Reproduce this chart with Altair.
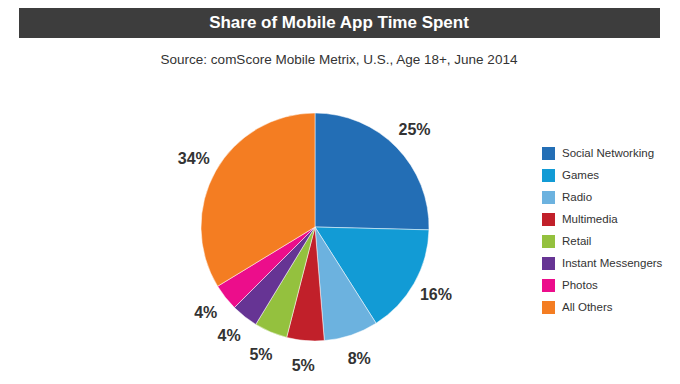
import altair as alt
import pandas as pd

categories = ["Social Networking", "Games", "Radio", "Multimedia", "Retail",
              "Instant Messengers", "Photos", "All Others"]
shares = [25.4, 15.6, 7.7, 5.3, 4.7, 3.8, 3.8, 33.7]
labels = ["25%", "16%", "8%", "5%", "5%", "4%", "4%", "34%"]
colors = ["#236EB5", "#129BD5", "#6CB2DF", "#C1202A", "#94C13E",
          "#663494", "#EC0D8B", "#F47D22"]
title_text = "Share of Mobile App Time Spent"
subtitle_text = "Source: comScore Mobile Metrix, U.S., Age 18+, June 2014"

FONT = "Liberation Sans"

df = pd.DataFrame({"category": categories, "share": shares, "label": labels,
                   "order": list(range(len(categories)))})

cx, cy = 307, 219
color_scale = alt.Scale(domain=categories, range=colors)

pie = alt.Chart(df).mark_arc(outerRadius=114, stroke="white", strokeWidth=0.5).encode(
    theta=alt.Theta("share:Q", stack=True),
    order=alt.Order("order:Q"),
    color=alt.Color("category:N", scale=color_scale, sort=categories,
                    legend=alt.Legend(title=None, orient="none", legendX=534, legendY=139,
                                      symbolType="square", symbolSize=169,
                                      symbolStrokeWidth=0, rowPadding=9,
                                      labelFont=FONT, labelFontSize=11.5,
                                      labelColor="#333333", labelOffset=7,
                                      labelLimit=200)),
    x=alt.value(cx), y=alt.value(cy),
)

text = alt.Chart(df).mark_text(radius=139, font=FONT, fontSize=16, fontWeight="bold",
                               color="#333333").encode(
    theta=alt.Theta("share:Q", stack=True),
    order=alt.Order("order:Q"),
    text="label:N",
    x=alt.value(cx), y=alt.value(cy),
)

bar = alt.Chart(pd.DataFrame({"a": [0]})).mark_rect(color="#3D3D3D").encode(
    x=alt.value(11), x2=alt.value(652), y=alt.value(0), y2=alt.value(30)
)

title = alt.Chart(pd.DataFrame({"t": [title_text]})).mark_text(
    font=FONT, fontSize=17, fontWeight="bold", color="white").encode(
    text="t:N", x=alt.value(331), y=alt.value(15)
)

subtitle = alt.Chart(pd.DataFrame({"t": [subtitle_text]})).mark_text(
    font=FONT, fontSize=13.5, color="#333333").encode(
    text="t:N", x=alt.value(331), y=alt.value(52)
)

chart = alt.layer(bar, title, subtitle, pie, text).properties(
    width=664, height=368, padding=0, autosize=alt.AutoSizeParams(type="none")
).configure_view(stroke=None)

chart.save("out.html", embed_options={"renderer": "svg", "actions": False})
